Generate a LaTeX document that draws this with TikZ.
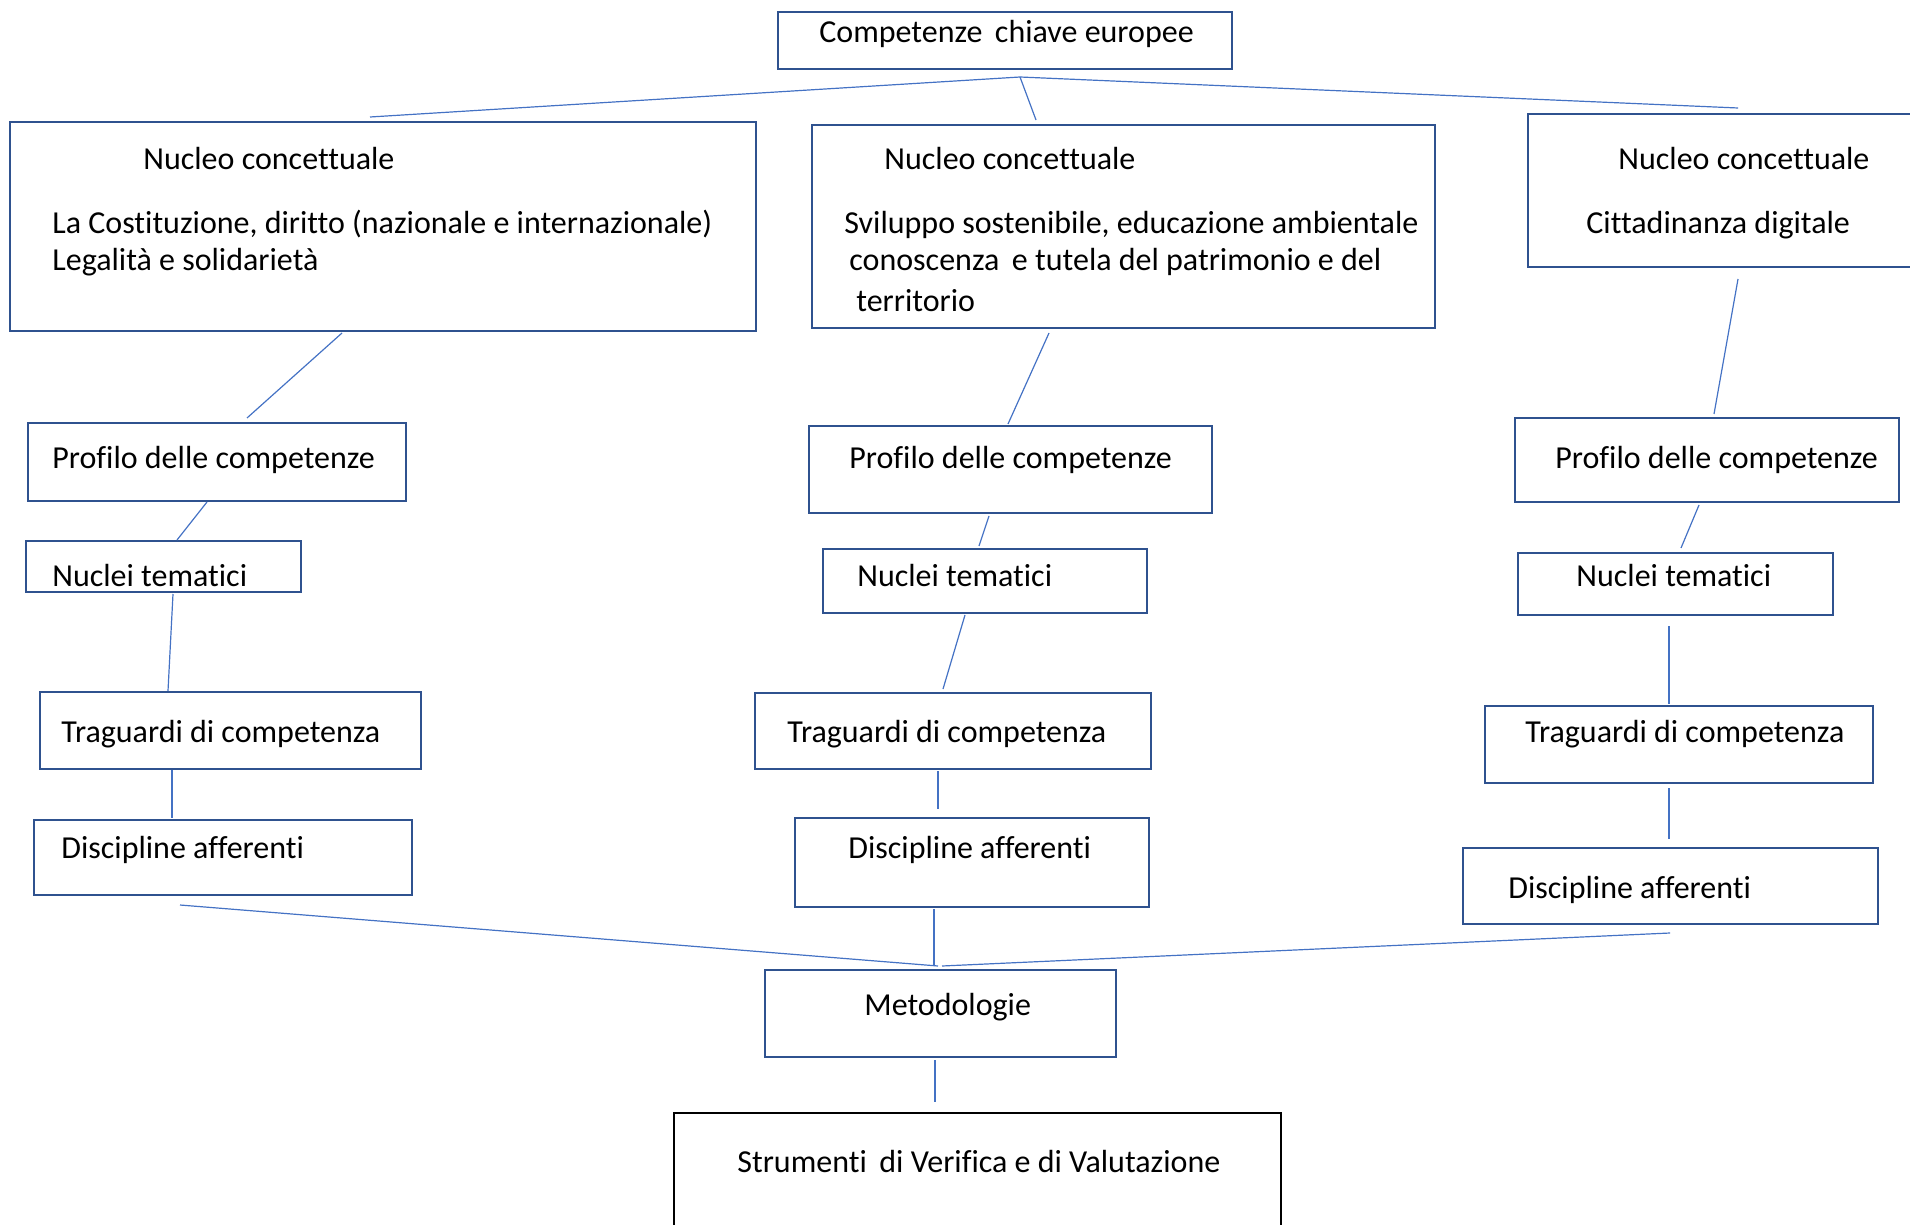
\documentclass[tikz,border=0pt]{standalone}
\usepackage{fontspec}
\setmainfont{Carlito}[Ligatures=NoCommon]
\usetikzlibrary{fit}
\definecolor{boxblue}{HTML}{2F528F}
\definecolor{lineblue}{HTML}{4472C4}

\begin{document}
\begin{tikzpicture}[x=0.5pt, y=-0.5pt,
    box/.style={draw=boxblue, line width=1.4pt, inner sep=0pt},
    txt/.style={anchor=mid west, inner sep=0pt, yshift=-2.5pt, font=\fontsize{16}{19}\selectfont},
    link/.style={draw=lineblue, line width=0.6pt}]

    \useasboundingbox (0,0) rectangle (1910,1225);

    % Top box
    \node[box, fit={(778,12) (1232,69)}] (cke) {};
    \node[txt] (ckeT) at (819,33) {Competenze\, chiave europee};

    % Nuclei concettuali
    \node[box, fit={(10,122) (756,331)}] (nc1) {};
    \node[txt] (nc1T) at (143,160) {Nucleo concettuale};
    \node[txt] (nc1A) at (52,224) {La Costituzione, diritto (nazionale e internazionale)};
    \node[txt] (nc1B) at (52,261) {Legalità e solidarietà};

    \node[box, fit={(812,125) (1435,328)}] (nc2) {};
    \node[txt] (nc2T) at (884,160) {Nucleo concettuale};
    \node[txt] (nc2A) at (844,224) {Sviluppo sostenibile, educazione ambientale};
    \node[txt] (nc2B) at (849,261) {conoscenza\, e tutela del patrimonio e del};
    \node[txt] (nc2C) at (856,302) {territorio};

    \node[box, fit={(1528,114) (1925,267)}] (nc3) {};
    \node[txt] (nc3T) at (1618,160) {Nucleo concettuale};
    \node[txt] (nc3A) at (1586,224) {Cittadinanza digitale};

    % Left column
    \node[box, fit={(28,423) (406,501)}] (pro1) {};
    \node[txt] (pro1T) at (52,459) {Profilo delle competenze};
    \node[box, fit={(26,541) (301,592)}] (tem1) {};
    \node[txt] (tem1T) at (52,577) {Nuclei tematici};
    \node[box, fit={(40,692) (421,769)}] (tra1) {};
    \node[txt] (tra1T) at (61,733) {Traguardi di competenza};
    \node[box, fit={(34,820) (412,895)}] (dis1) {};
    \node[txt] (dis1T) at (61,849) {Discipline afferenti};

    % Middle column
    \node[box, fit={(809,426) (1212,513)}] (pro2) {};
    \node[txt] (pro2T) at (849,459) {Profilo delle competenze};
    \node[box, fit={(823,549) (1147,613)}] (tem2) {};
    \node[txt] (tem2T) at (857,577) {Nuclei tematici};
    \node[box, fit={(755,693) (1151,769)}] (tra2) {};
    \node[txt] (tra2T) at (787,733) {Traguardi di competenza};
    \node[box, fit={(795,818) (1149,907)}] (dis2) {};
    \node[txt] (dis2T) at (848,849) {Discipline afferenti};

    % Right column
    \node[box, fit={(1515,418) (1899,502)}] (pro3) {};
    \node[txt] (pro3T) at (1555,459) {Profilo delle competenze};
    \node[box, fit={(1518,553) (1833,615)}] (tem3) {};
    \node[txt] (tem3T) at (1576,577) {Nuclei tematici};
    \node[box, fit={(1485,706) (1873,783)}] (tra3) {};
    \node[txt] (tra3T) at (1525,733) {Traguardi di competenza};
    \node[box, fit={(1463,848) (1878,924)}] (dis3) {};
    \node[txt] (dis3T) at (1508,889) {Discipline afferenti};

    % Bottom boxes
    \node[box, fit={(765,970) (1116,1057)}] (met) {};
    \node[txt] (metT) at (864,1006) {Metodologie};
    \node[box, draw=black, fit={(674,1113) (1281,1240)}] (stv) {};
    \node[txt] (stvT) at (737,1163) {Strumenti\, di Verifica e di Valutazione};

    % Line ends (free lines, not glued to the boxes)
    \coordinate (top) at (1020,77);
    \coordinate (top1) at (370,117);
    \coordinate (top2) at (1036,120);
    \coordinate (top3) at (1738,108);
    \coordinate (a1) at (342,333);  \coordinate (a2) at (247,418);
    \coordinate (a3) at (207,502);  \coordinate (a4) at (177,540);
    \coordinate (a5) at (173,594);  \coordinate (a6) at (168,691);
    \coordinate (a7) at (172,770);  \coordinate (a8) at (172,818);
    \coordinate (a9) at (180,905);
    \coordinate (b1) at (1049,333); \coordinate (b2) at (1008,424);
    \coordinate (b3) at (989,516);  \coordinate (b4) at (979,546);
    \coordinate (b5) at (965,615);  \coordinate (b6) at (943,689);
    \coordinate (b7) at (938,771);  \coordinate (b8) at (938,809);
    \coordinate (b9) at (934,909);
    \coordinate (c1) at (1738,279); \coordinate (c2) at (1714,414);
    \coordinate (c3) at (1699,505); \coordinate (c4) at (1681,548);
    \coordinate (c5) at (1669,626); \coordinate (c6) at (1669,704);
    \coordinate (c7) at (1669,788); \coordinate (c8) at (1669,839);
    \coordinate (c9) at (1670,933);
    \coordinate (mIn1) at (938,966);
    \coordinate (mIn2) at (934,966);
    \coordinate (mIn3) at (942,966);
    \coordinate (mOut) at (935,1060);
    \coordinate (sIn) at (935,1102);

    % Connections
    \draw[link] (top1) -- (top) -- (top3);
    \draw[link] (top) -- (top2);
    \draw[link] (a1) -- (a2);
    \draw[link] (a3) -- (a4);
    \draw[link] (a5) -- (a6);
    \draw[link] (a7) -- (a8);
    \draw[link] (a9) -- (mIn1);
    \draw[link] (b1) -- (b2);
    \draw[link] (b3) -- (b4);
    \draw[link] (b5) -- (b6);
    \draw[link] (b7) -- (b8);
    \draw[link] (b9) -- (mIn2);
    \draw[link] (c1) -- (c2);
    \draw[link] (c3) -- (c4);
    \draw[link] (c5) -- (c6);
    \draw[link] (c7) -- (c8);
    \draw[link] (c9) -- (mIn3);
    \draw[link] (mOut) -- (sIn);

\end{tikzpicture}
\end{document}
